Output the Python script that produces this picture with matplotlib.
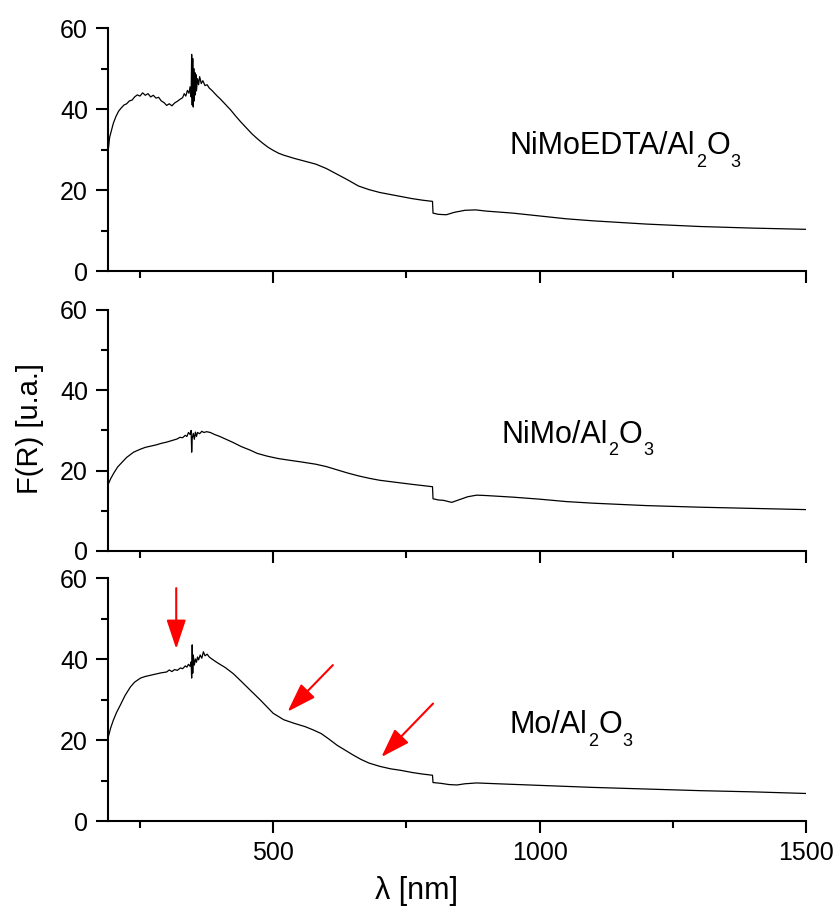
"""Diffuse reflectance spectra F(R) of the three Al2O3-supported samples."""

import matplotlib
matplotlib.use("Agg")
import matplotlib.pyplot as plt
from matplotlib.ticker import MultipleLocator

# NiMoEDTA/Al2O3 (top panel)
wl_edta = [191, 193, 196, 200, 205, 210, 215, 220, 225, 230, 235, 240, 245, 250, 255,
           260, 265, 270, 275, 280, 285, 290, 295, 300, 305, 310, 315, 320, 325, 330,
           333, 336, 339, 342, 344, 346, 347, 348, 349, 350, 351, 352, 353, 354, 355,
           356, 358, 360, 362, 365, 368, 372, 376, 380, 385, 390, 395, 400, 410, 420,
           430, 440, 450, 460, 470, 480, 490, 500, 510, 520, 540, 560, 580, 600, 620, 640,
           660, 680, 700, 720, 740, 760, 780, 799, 800, 810, 825, 840, 860, 880, 900,
           950, 1000, 1050, 1100, 1200, 1300, 1400, 1500]
f_edta = [30.5, 33.0, 34.5, 36.5, 38.2, 39.5, 40.3, 41.0, 41.3, 42.0, 42.2, 43.0, 43.5, 43.2, 44.0,
          43.4, 43.8, 43.0, 43.4, 42.7, 42.9, 42.0, 41.6, 40.9, 41.3, 40.8, 41.5, 41.9, 42.4, 42.8,
          43.8, 43.2, 44.6, 43.9, 45.5, 43.0, 53.5, 41.0, 52.5, 40.5, 50.0, 42.0, 49.0, 43.5, 48.5,
          44.5, 47.5, 46.0, 48.0, 46.3, 47.0, 45.8, 46.0, 45.2, 44.6, 43.9, 43.2, 42.6, 41.2, 39.8,
          38.2, 36.7, 35.3, 33.9, 32.7, 31.6, 30.6, 29.8, 29.1, 28.6, 27.8, 27.1, 26.4, 25.3, 23.9, 22.5,
          21.0, 20.1, 19.4, 18.9, 18.4, 17.9, 17.5, 17.2, 14.3, 14.0, 13.9, 14.5, 15.0, 15.1, 14.8,
          14.3, 13.6, 12.9, 12.4, 11.6, 11.0, 10.6, 10.3]

# NiMo/Al2O3 (middle panel)
wl_nimo = [191, 195, 200, 208, 215, 225, 238, 250, 260, 270, 280, 290, 300, 310, 320,
           325, 330, 335, 338, 341, 344, 346, 347, 348, 350, 352, 354, 356, 358, 362,
           366, 370, 375, 382, 390, 400, 410, 425, 440, 457, 470, 489, 510, 530, 551,
           580, 600, 620, 640, 660, 680, 700, 730, 760, 799, 800, 810, 820, 835, 850,
           865, 882, 900, 950, 1000, 1050, 1100, 1200, 1300, 1400, 1500]
f_nimo = [16.8, 18.0, 19.2, 20.9, 21.9, 23.3, 24.6, 25.3, 25.8, 26.1, 26.4, 26.8, 27.1, 27.5, 27.9,
          28.3, 28.2, 28.8, 28.5, 29.5, 29.0, 30.0, 24.6, 28.0, 29.3, 27.8, 29.6, 28.5, 29.5, 29.2,
          29.8, 29.5, 29.7, 29.5, 29.0, 28.5, 27.9, 27.0, 26.0, 25.1, 24.3, 23.6, 23.0, 22.6, 22.2,
          21.6, 21.0, 20.2, 19.4, 18.7, 18.1, 17.6, 17.1, 16.6, 16.0, 13.0, 12.7, 12.6, 12.1, 12.8,
          13.5, 13.9, 13.8, 13.4, 12.9, 12.3, 11.9, 11.3, 10.9, 10.6, 10.3]

# Mo/Al2O3 (bottom panel)
wl_mo = [191, 195, 200, 206, 213, 222, 232, 240, 251, 260, 270, 280, 290, 300, 305,
         310, 315, 320, 326, 330, 335, 338, 341, 344, 346, 347, 348, 349, 350, 352,
         354, 356, 358, 360, 363, 366, 369, 372, 376, 380, 385, 395, 410, 425, 440,
         457, 475, 489, 500, 520, 540, 560, 575, 590, 605, 620, 635, 650, 665, 680,
         700, 720, 740, 760, 780, 799, 800, 815, 830, 845, 860, 882, 920, 1000, 1100,
         1200, 1300, 1400, 1500]
f_mo = [21.0, 23.0, 24.9, 26.8, 28.6, 31.0, 33.1, 34.3, 35.3, 35.7, 36.0, 36.3, 36.6, 36.8, 37.3,
        36.9, 37.4, 37.2, 37.8, 37.6, 38.3, 38.0, 38.7, 38.2, 39.3, 35.3, 43.5, 36.5, 41.0, 38.5,
        40.0, 39.2, 40.5, 39.8, 41.0, 40.2, 41.8, 40.8, 41.2, 40.5, 40.0, 39.1, 37.9, 36.4, 34.5,
        32.3, 30.0, 28.1, 26.6, 25.0, 24.1, 23.3, 22.5, 21.6, 20.2, 18.7, 17.5, 16.3, 15.2, 14.3,
        13.5, 12.9, 12.5, 12.0, 11.6, 11.3, 9.5, 9.3, 9.0, 8.9, 9.2, 9.4, 9.2, 8.8, 8.3,
        7.9, 7.5, 7.2, 6.8]

# sample labels: (text, is_subscript) pieces, and left/baseline position in data units
labels = [[("NiMoEDTA/Al", False), ("2", True), ("O", False), ("3", True)],
          [("NiMo/Al", False), ("2", True), ("O", False), ("3", True)],
          [("Mo/Al", False), ("2", True), ("O", False), ("3", True)]]
label_pos = [(944, 28.9), (929, 26.9), (944, 21.7)]

# arrows on the Mo panel: (tail, tip)
arrows = [((318, 57.5), (318, 42.5)),
          ((612, 38.5), (527, 27.0)),
          ((800, 29.0), (703, 15.8))]


def chem_label(ax, x, y, parts, size=22, subsize=13, drop=-4.0):
    base = ax.text(x, y, parts[0][0], fontsize=size, va="baseline", ha="left")
    prev = base
    for s, sub in parts[1:]:
        if sub:
            prev = ax.annotate(s, xy=(1, 0), xycoords=(prev, base), xytext=(0.3, drop),
                               textcoords="offset points", fontsize=subsize,
                               va="baseline", ha="left")
        else:
            prev = ax.annotate(s, xy=(1, 0), xycoords=(prev, base), xytext=(0.3, 0),
                               textcoords="offset points", fontsize=size,
                               va="bottom", ha="left")


def main():
    plt.rcParams["font.family"] = ["Liberation Sans", "DejaVu Sans"]

    fig = plt.figure(figsize=(8.38, 9.08), dpi=100)
    boxes = [[0.1289, 0.7015, 0.8329, 0.2676],
             [0.1289, 0.3932, 0.8329, 0.2654],
             [0.1289, 0.0958, 0.8329, 0.2676]]
    series = [(wl_edta, f_edta), (wl_nimo, f_nimo), (wl_mo, f_mo)]

    axes = []
    for i, (box, (x, y)) in enumerate(zip(boxes, series)):
        ax = fig.add_axes(box)
        ax.plot(x, y, color="black", lw=0.9)
        ax.set_xlim(190, 1500)
        ax.set_ylim(0, 60)
        for s in ("top", "right"):
            ax.spines[s].set_visible(False)
        for s in ("left", "bottom"):
            ax.spines[s].set_linewidth(1.5)
        ax.xaxis.set_major_locator(MultipleLocator(500))
        ax.xaxis.set_minor_locator(MultipleLocator(250))
        ax.yaxis.set_major_locator(MultipleLocator(20))
        ax.yaxis.set_minor_locator(MultipleLocator(10))
        ax.tick_params(which="major", direction="out", length=8.5, width=1.5,
                       labelsize=18, pad=6)
        ax.tick_params(which="minor", direction="out", length=5, width=1.5)
        if i < 2:
            ax.tick_params(axis="x", labelbottom=False)
        lx, ly = label_pos[i]
        chem_label(ax, lx, ly, labels[i])
        axes.append(ax)

    for tail, tip in arrows:
        axes[2].annotate("", xy=tip, xytext=tail,
                         arrowprops=dict(arrowstyle="-|>,head_length=0.9,head_width=0.3",
                                         color="red", lw=1.5, mutation_scale=20,
                                         shrinkA=0, shrinkB=0))

    fig.text(416 / 838, 1 - 891 / 908, "λ [nm]", fontsize=22, ha="center", va="center")
    fig.text(30 / 838, 1 - 428 / 908, "F(R) [u.a.]", fontsize=21, ha="center",
             va="center", rotation=90)

    fig.savefig("out.png", dpi=100)


if __name__ == "__main__":
    main()
